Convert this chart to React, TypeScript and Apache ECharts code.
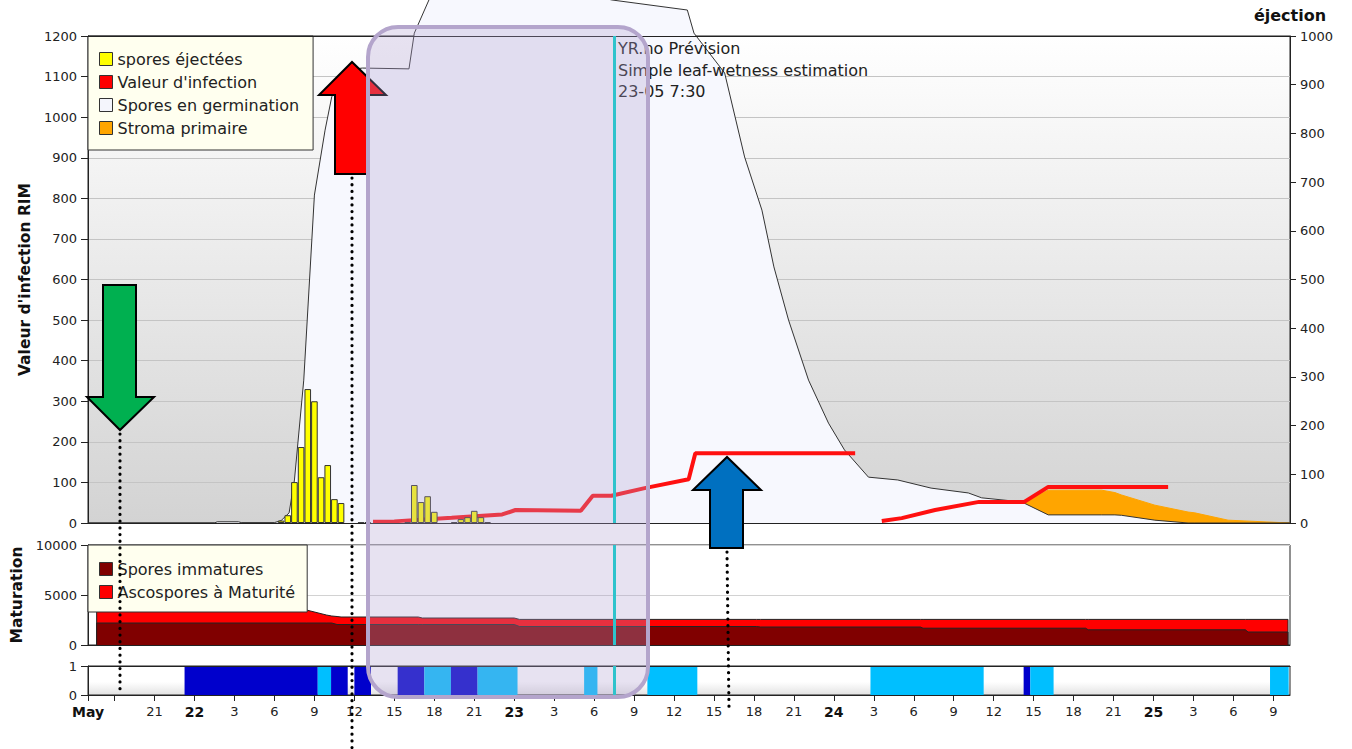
import React, { useEffect, useRef } from 'react';
import * as echarts from 'echarts';

const FONT = 'DejaVu Sans';

// Time axis in hours since 21 May 00:00
const X_MIN = 16;
const X_MAX = 106.25;
const NOW_HOUR = 55.5; // 23-05 7:30
const TICK_HOURS = [16, 18, 21, 24, 27, 30, 33, 36, 39, 42, 45, 48, 51, 54, 57, 60, 63, 66, 69, 72, 75, 78, 81, 84, 87, 90, 93, 96, 99, 102, 105];
const LABEL_HOURS = [16, 21, 24, 27, 30, 33, 36, 39, 42, 45, 48, 51, 54, 57, 60, 63, 66, 69, 72, 75, 78, 81, 84, 87, 90, 93, 96, 99, 102, 105];
const DAY_LABELS: Record<number, string> = { 16: 'May', 24: '22', 48: '23', 72: '24', 96: '25' };

// Spores en germination (left axis) and Stroma primaire (on top of it)
const GERM_HOURS = [16, 25.5, 25.7, 27.3, 27.5, 30.0, 30.5, 31.1, 31.5, 32.2, 33.0, 33.8, 34.3, 35.4, 36.6, 40.1, 40.5, 41.6, 42.0, 45.0, 50.0, 55.3, 61.0, 61.5, 63.8, 65.3, 66.6, 67.5, 68.6, 70.1, 71.6, 72.8, 74.6, 76.8, 79.3, 82.1, 83.1, 86.1, 88.1, 92.1, 93.1, 93.6, 96.1, 98.6, 99.1, 101.6, 106.25];
const GERM_VALUES = [0, 0, 3, 3, 1, 1, 6, 25, 106, 352, 808, 968, 1050, 1116, 1121, 1119, 1207, 1289, 1323, 1338, 1333, 1289, 1264, 1207, 1109, 902, 771, 631, 500, 352, 246, 180, 113, 106, 86, 74, 62, 52, 20, 20, 20, 19, 7, 0, 0, 0, 0];
const STROMA_VALUES = [0, 0, 0, 0, 0, 0, 0, 0, 0, 0, 0, 0, 0, 0, 0, 0, 0, 0, 0, 0, 0, 0, 0, 0, 0, 0, 0, 0, 0, 0, 0, 0, 0, 0, 0, 0, 0, 0, 61, 61, 55, 50, 37, 27, 25, 7, 0];

// Valeur d'infection (left axis), null = gap
const INFECT_HOURS = [37.4, 39.0, 43.3, 47.1, 48.1, 53.0, 53.9, 55.3, 57.8, 61.1, 61.6, 73.6, 74.5, 75.6, 77.1, 79.6, 82.9, 86.3, 88.1, 97.1];
const INFECT_VALUES = [3, 4, 13, 21, 32, 30, 67, 67, 86, 108, 172, 172, null, 5, 12, 32, 52, 52, 89, 89];

// spores éjectées (right axis)
const EJECT_HOURS = [30.5, 31, 31.5, 32, 32.5, 33, 33.5, 34, 34.5, 35, 36.5, 37, 40, 40.5, 41, 41.5, 42, 43.5, 44, 44.5, 45, 45.5, 46];
const EJECT_VALUES = [5, 16, 84, 156, 275, 250, 94, 119, 49, 41, 1, 2, 2, 78, 43, 55, 23, 2, 8, 12, 25, 12, 2];

// Maturation
const MAT_HOURS = [16.65, 16.65, 32.4, 33.9, 34.3, 34.7, 35.0, 40.8, 41.1, 48.0, 48.4, 66.2, 66.5, 78.5, 78.7, 90.9, 91.1, 102.9, 103.1, 106.1, 106.1];
const IMMATURE_VALUES = [0, 2200, 2200, 2200, 2200, 2050, 2050, 2050, 2050, 2050, 1850, 1850, 1800, 1800, 1680, 1680, 1520, 1520, 1300, 1300, 0];
const MATURE_VALUES = [0, 1300, 1300, 800, 700, 800, 750, 750, 650, 650, 710, 710, 760, 760, 880, 880, 1040, 1040, 1260, 1260, 0];

// Leaf wetness bands (2 = dark, 1 = light)
const WET_START = [23.25, 33.25, 34.25, 36.0, 39.25, 41.25, 43.25, 45.25, 53.25, 58.0, 74.75, 86.25, 86.75, 104.75];
const WET_END = [33.25, 34.25, 35.5, 37.25, 41.25, 43.25, 45.25, 48.25, 54.25, 61.75, 83.25, 86.75, 88.5, 106.15];
const WET_LEVEL = [2, 1, 2, 2, 2, 1, 2, 1, 1, 1, 1, 2, 1, 1];

const DARK_BLUE = '#0000cc';
const LIGHT_BLUE = '#00bfff';
const CYAN = '#2fc3cc';

const nowMarkLine = {
  silent: true,
  z: 200,
  symbol: ['none', 'none'],
  label: { show: false },
  lineStyle: { color: CYAN, width: 3, type: 'solid', opacity: 1 },
  data: [{ xAxis: NOW_HOUR }],
};

function buildOption() {
  const labelBase = { color: '#222', fontSize: 13, fontFamily: FONT, formatter: (v: number) => String(v) };
  const nameStyle = { fontFamily: FONT, fontWeight: 'bold', fontSize: 15.5, color: '#111' };
  const xBase = { type: 'value', min: X_MIN, max: X_MAX, splitLine: { show: false } };
  const lineOnly = { axisLine: { show: true, onZero: false, lineStyle: { color: '#222', width: 1 } }, axisTick: { show: false }, axisLabel: { show: false }, z: 10 };
  const dotted = { stroke: '#000', lineWidth: 3.2, lineDash: [0.1, 6.6], lineCap: 'round' };
  const arrowStyle = (fill: string) => ({ fill, stroke: '#000', lineWidth: 2, lineJoin: 'miter' });
  const textFont = '16px "DejaVu Sans"';

  // stroma drawn as top of (germination + stroma), only where stroma exists
  const stromaTop = GERM_HOURS.map((h, i) => {
    const near = STROMA_VALUES[i] > 0 || (STROMA_VALUES[i - 1] || 0) > 0 || (STROMA_VALUES[i + 1] || 0) > 0;
    return [h, near ? GERM_VALUES[i] + STROMA_VALUES[i] : null];
  });
  const matTotal = MAT_HOURS.map((h, i) => [h, IMMATURE_VALUES[i] + MATURE_VALUES[i]]);

  const legendBase = {
    left: 88, orient: 'vertical', backgroundColor: '#ffffef', borderColor: '#333', borderWidth: 1,
    borderRadius: 0, itemWidth: 13, itemHeight: 13, itemGap: 7, icon: 'rect',
    selectedMode: false, textStyle: { fontFamily: FONT, fontSize: 16, color: '#222' },
  };

  return {
    animation: false,
    textStyle: { fontFamily: FONT },
    grid: [
      {
        left: 88, right: 62, top: 36, height: 487, show: true, borderColor: '#222', borderWidth: 1,
        backgroundColor: new echarts.graphic.LinearGradient(0, 0, 0, 1, [
          { offset: 0, color: '#ffffff' },
          { offset: 1, color: '#d3d3d3' },
        ]),
      },
      { left: 88, right: 62, top: 545, height: 100, show: true, borderColor: '#222', borderWidth: 1, backgroundColor: '#ffffff' },
      {
        left: 88, right: 62, top: 666, height: 29, show: true, borderColor: '#222', borderWidth: 1,
        backgroundColor: new echarts.graphic.LinearGradient(0, 0, 0, 1, [
          { offset: 0, color: '#ffffff' },
          { offset: 0.55, color: '#ffffff' },
          { offset: 1, color: '#e2e2e2' },
        ]),
      },
    ],
    xAxis: [
      { ...xBase, gridIndex: 0, position: 'bottom', ...lineOnly },
      { ...xBase, gridIndex: 0, position: 'top', ...lineOnly },
      { ...xBase, gridIndex: 1, position: 'bottom', ...lineOnly },
      {
        ...xBase, gridIndex: 2, position: 'bottom', z: 10,
        axisLine: { show: true, onZero: false, lineStyle: { color: '#222', width: 1 } },
        axisTick: { show: true, length: 6, lineStyle: { color: '#222' }, customValues: TICK_HOURS },
        axisLabel: {
          color: '#222', fontSize: 13, fontFamily: FONT, margin: 10, customValues: LABEL_HOURS,
          formatter: (v: number) => {
            const d = DAY_LABELS[v];
            if (d) return '{b|' + d + '}';
            return String(v % 24);
          },
          rich: { b: { fontFamily: FONT, fontWeight: 'bold', fontSize: 14, color: '#111' } },
        },
      },
      { ...xBase, gridIndex: 2, position: 'top', ...lineOnly },
    ],
    yAxis: [
      {
        gridIndex: 0, type: 'value', min: 0, max: 1200, interval: 100, position: 'left',
        axisLine: { show: true, lineStyle: { color: '#222' } },
        axisTick: { show: true, length: 7, lineStyle: { color: '#222' } },
        axisLabel: { ...labelBase, margin: 11 },
        splitLine: { show: true, lineStyle: { color: '#c4c4c4', width: 1 } },
        name: "Valeur d'infection RIM", nameLocation: 'middle', nameGap: 55, nameTextStyle: nameStyle,
      },
      {
        gridIndex: 0, type: 'value', min: 0, max: 1000, interval: 100, position: 'right',
        axisLine: { show: true, lineStyle: { color: '#222' } },
        axisTick: { show: true, length: 6, lineStyle: { color: '#222' } },
        axisLabel: { ...labelBase, margin: 10 },
        splitLine: { show: false },
        name: 'éjection', nameLocation: 'end', nameGap: 13, nameTextStyle: { ...nameStyle, fontSize: 16 },
      },
      {
        gridIndex: 1, type: 'value', min: 0, max: 10000, interval: 5000, position: 'left',
        axisLine: { show: true, lineStyle: { color: '#222' } },
        axisTick: { show: true, length: 7, lineStyle: { color: '#222' } },
        axisLabel: { ...labelBase, margin: 11 },
        splitLine: { show: true, lineStyle: { color: '#d2d2d2', width: 1 } },
        name: 'Maturation', nameLocation: 'middle', nameGap: 63, nameTextStyle: nameStyle,
      },
      {
        gridIndex: 2, type: 'value', min: 0, max: 1, interval: 1, position: 'left',
        axisLine: { show: true, lineStyle: { color: '#222' } },
        axisTick: { show: true, length: 7, lineStyle: { color: '#222' } },
        axisLabel: { ...labelBase, margin: 11 },
        splitLine: { show: false },
      },
    ],
    legend: [
      {
        ...legendBase, top: 36, padding: [15, 14, 14, 11],
        data: [
          { name: 'spores éjectées', itemStyle: { color: '#ffff00', borderColor: '#333', borderWidth: 1 } },
          { name: "Valeur d'infection", itemStyle: { color: '#ff0000', borderColor: '#333', borderWidth: 1 } },
          { name: 'Spores en germination', itemStyle: { color: '#f4f5fc', borderColor: '#333', borderWidth: 1 } },
          { name: 'Stroma primaire', itemStyle: { color: '#ffa500', borderColor: '#333', borderWidth: 1 } },
        ],
      },
      {
        ...legendBase, top: 545, padding: [16, 12, 12, 11],
        data: [
          { name: 'Spores immatures', itemStyle: { color: '#800000', borderColor: '#333', borderWidth: 1 } },
          { name: 'Ascospores à Maturité', itemStyle: { color: '#ff0000', borderColor: '#333', borderWidth: 1 } },
        ],
      },
    ],
    series: [
      {
        name: 'Stroma primaire', type: 'line', xAxisIndex: 0, yAxisIndex: 0,
        data: stromaTop, connectNulls: false,
        symbol: 'none', clip: false, z: 1,
        itemStyle: { color: '#ffa500' },
        lineStyle: { color: '#ffa500', width: 1 },
        areaStyle: { color: '#ffa500', opacity: 1 },
      },
      {
        name: 'Spores en germination', type: 'line', xAxisIndex: 0, yAxisIndex: 0,
        data: GERM_HOURS.map((h, i) => [h, GERM_VALUES[i]]),
        symbol: 'none', clip: false, z: 2,
        itemStyle: { color: '#f4f5fc' },
        lineStyle: { color: '#333', width: 1 },
        areaStyle: { color: '#f7f8fe', opacity: 1 },
        markLine: nowMarkLine,
      },
      {
        name: "Valeur d'infection", type: 'line', xAxisIndex: 0, yAxisIndex: 0,
        data: INFECT_HOURS.map((h, i) => [h, INFECT_VALUES[i]]),
        symbol: 'none', z: 3, connectNulls: false,
        itemStyle: { color: '#ff0000' },
        lineStyle: { color: '#ff1010', width: 4 },
      },
      {
        name: 'spores éjectées', type: 'bar', xAxisIndex: 0, yAxisIndex: 1,
        data: EJECT_HOURS.map((h, i) => [h, EJECT_VALUES[i]]),
        barWidth: 6.6, z: 4,
        itemStyle: { color: '#ffff00', borderColor: '#333', borderWidth: 1 },
      },
      {
        name: 'Ascospores à Maturité', type: 'line', xAxisIndex: 2, yAxisIndex: 2,
        data: matTotal,
        symbol: 'none', z: 1,
        itemStyle: { color: '#ff0000' },
        lineStyle: { color: '#222', width: 1 },
        areaStyle: { color: '#ff0000', opacity: 1 },
      },
      {
        name: 'Spores immatures', type: 'line', xAxisIndex: 2, yAxisIndex: 2,
        data: MAT_HOURS.map((h, i) => [h, IMMATURE_VALUES[i]]),
        symbol: 'none', z: 2,
        itemStyle: { color: '#800000' },
        lineStyle: { color: '#222', width: 1 },
        areaStyle: { color: '#800000', opacity: 1 },
        markLine: nowMarkLine,
      },
      {
        name: 'Humectation', type: 'custom', xAxisIndex: 3, yAxisIndex: 3,
        data: WET_START.map((s, i) => [s, WET_END[i], WET_LEVEL[i]]),
        encode: { x: [0, 1] },
        renderItem: (params: any, api: any) => {
          const p0 = api.coord([api.value(0), 1]);
          const p1 = api.coord([api.value(1), 0]);
          return {
            type: 'rect',
            shape: { x: p0[0], y: p0[1], width: p1[0] - p0[0], height: p1[1] - p0[1] },
            style: { fill: api.value(2) === 2 ? DARK_BLUE : LIGHT_BLUE },
          };
        },
        z: 2,
      },
      {
        name: 'now', type: 'line', xAxisIndex: 3, yAxisIndex: 3,
        data: [[NOW_HOUR, 0]], symbol: 'none', lineStyle: { width: 0 }, z: 3,
        markLine: nowMarkLine,
      },
    ],
    graphic: [
      { type: 'text', x: 618, y: 48, z: 50, style: { text: 'YR.no Prévision', font: textFont, fill: '#222', align: 'left', verticalAlign: 'middle' } },
      { type: 'text', x: 618, y: 70, z: 50, style: { text: 'Simple leaf-wetness estimation', font: textFont, fill: '#222', align: 'left', verticalAlign: 'middle' } },
      { type: 'text', x: 618, y: 91, z: 50, style: { text: '23-05 7:30', font: textFont, fill: '#222', align: 'left', verticalAlign: 'middle' } },
      { type: 'line', z: 59, shape: { x1: 120, y1: 434, x2: 120, y2: 695 }, style: dotted },
      { type: 'line', z: 59, shape: { x1: 352, y1: 178, x2: 352, y2: 749 }, style: dotted },
      { type: 'line', z: 59, shape: { x1: 727, y1: 552, x2: 729, y2: 708 }, style: dotted },
      { type: 'polygon', z: 60, shape: { points: [[103, 285], [136, 285], [136, 397], [154, 397], [120, 430], [87, 397], [103, 397]] }, style: arrowStyle('#00b050') },
      { type: 'polygon', z: 60, shape: { points: [[335, 174], [335, 95], [319, 95], [352, 62], [386, 95], [369, 95], [369, 174]] }, style: arrowStyle('#ff0000') },
      { type: 'polygon', z: 60, shape: { points: [[710, 548], [710, 490], [693, 490], [727, 457], [761, 490], [743, 490], [743, 548]] }, style: arrowStyle('#0070c0') },
      { type: 'rect', z: 100, shape: { x: 368, y: 27, width: 280, height: 670, r: 30 }, style: { fill: 'rgba(176,158,208,0.3)', stroke: '#b4a5cc', lineWidth: 4 } },
    ],
  };
}

export default function App() {
  const ref = useRef<HTMLDivElement>(null);
  useEffect(() => {
    if (!ref.current) return;
    const chart = echarts.init(ref.current, undefined, { renderer: 'svg' });
    chart.setOption(buildOption() as any);
    return () => chart.dispose();
  }, []);
  return <div ref={ref} style={{ position: 'fixed', left: 0, top: 0, width: 1352, height: 749, background: '#fff' }} />;
}
